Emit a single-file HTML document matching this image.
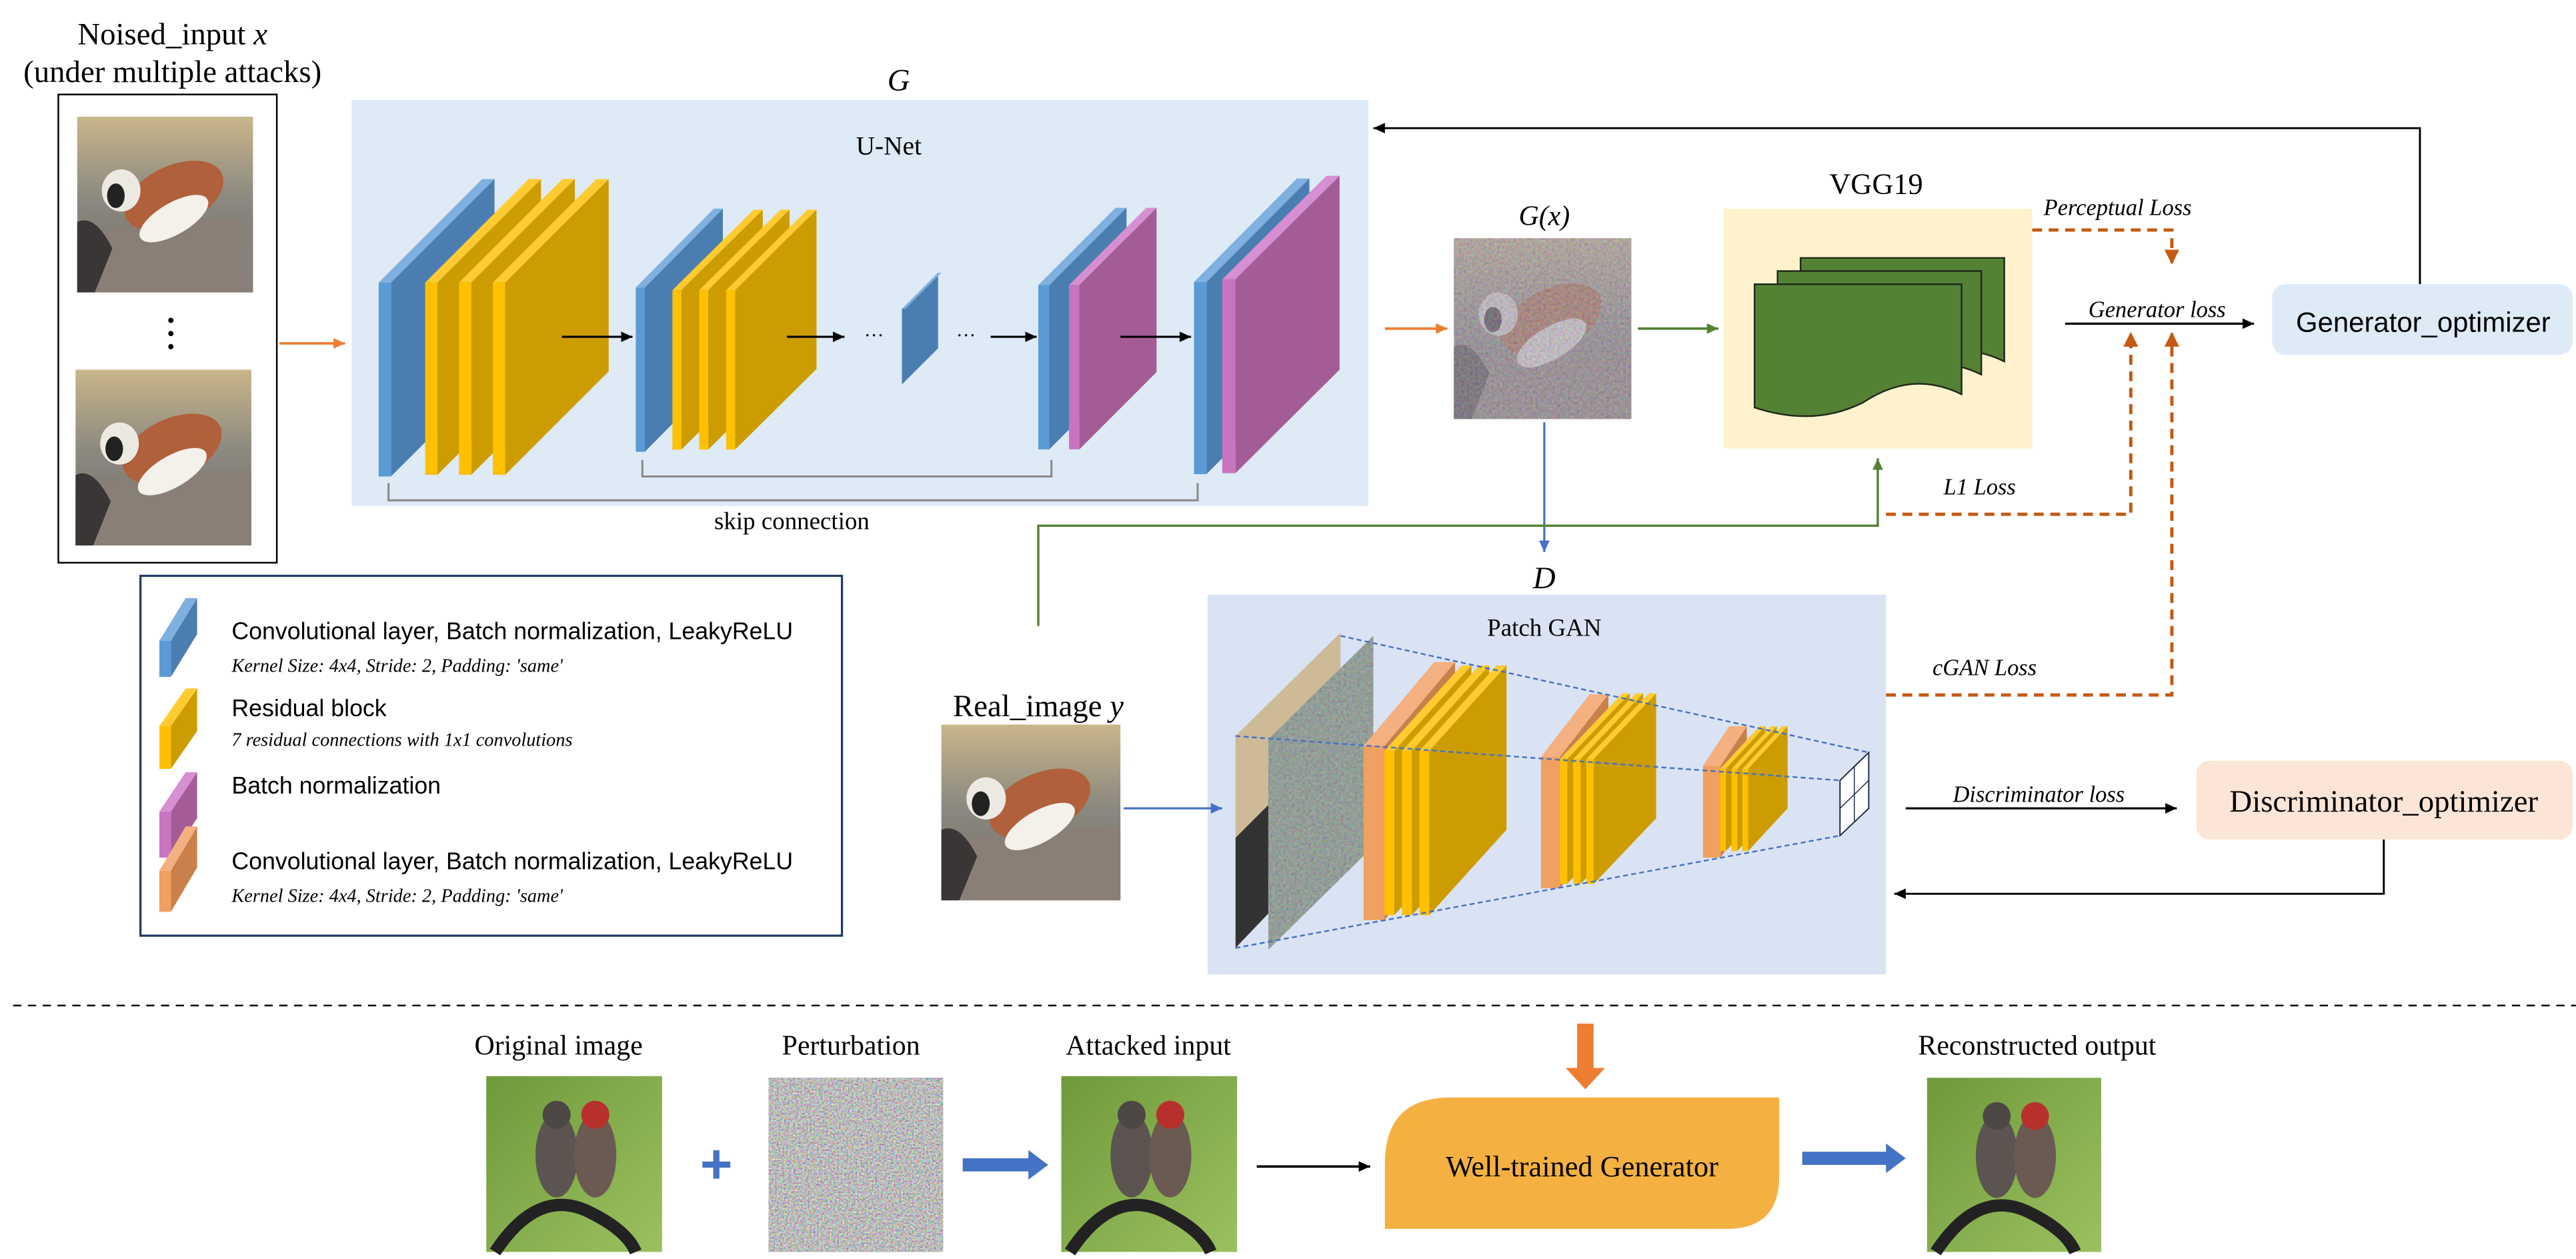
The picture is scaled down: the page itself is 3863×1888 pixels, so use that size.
<!DOCTYPE html>
<html><head><meta charset="utf-8"><style>
html,body{margin:0;padding:0;background:#fff;}
svg{display:block;}
.s{font-family:"Liberation Serif",serif;}
.a{font-family:"Liberation Sans",sans-serif;}
</style></head><body>
<svg id="S" width="3863" height="1888" viewBox="0 0 1568 766.3" preserveAspectRatio="none" xmlns="http://www.w3.org/2000/svg">
<defs>
<marker id="ab" markerWidth="8" markerHeight="8" refX="7" refY="4" orient="auto" markerUnits="userSpaceOnUse"><path d="M0,0.8 L7,4 L0,7.2 Z" fill="#000"/></marker>
<marker id="ao" markerWidth="8" markerHeight="8" refX="7" refY="4" orient="auto" markerUnits="userSpaceOnUse"><path d="M0,0.8 L7,4 L0,7.2 Z" fill="#ed7d31"/></marker>
<marker id="ad" markerWidth="10" markerHeight="10" refX="8" refY="5" orient="auto" markerUnits="userSpaceOnUse"><path d="M0,0.5 L9,5 L0,9.5 Z" fill="#c55a11"/></marker>
<marker id="ag" markerWidth="8" markerHeight="8" refX="7" refY="4" orient="auto" markerUnits="userSpaceOnUse"><path d="M0,0.8 L7,4 L0,7.2 Z" fill="#548235"/></marker>
<marker id="abl" markerWidth="8" markerHeight="8" refX="7" refY="4" orient="auto" markerUnits="userSpaceOnUse"><path d="M0,0.8 L7,4 L0,7.2 Z" fill="#4472c4"/></marker>
<linearGradient id="birdbg" x1="0" y1="0" x2="0" y2="1"><stop offset="0" stop-color="#c9b68a"/><stop offset="0.45" stop-color="#8d8a80"/><stop offset="1" stop-color="#6e6a68"/></linearGradient>
<linearGradient id="greenbg" x1="0" y1="0" x2="1" y2="1"><stop offset="0" stop-color="#6f9a3a"/><stop offset="1" stop-color="#9cc060"/></linearGradient>
<filter id="noise" x="0" y="0" width="1" height="1"><feTurbulence type="fractalNoise" baseFrequency="0.9" numOctaves="2" seed="3"/><feColorMatrix type="matrix" values="1.2 0 0 0 -0.1  0 1.2 0 0 -0.1  0 0 1.2 0 -0.1  0 0 0 0 1"/></filter>
<filter id="noise2" x="0" y="0" width="1" height="1"><feTurbulence type="fractalNoise" baseFrequency="0.6" numOctaves="2" seed="7"/><feColorMatrix type="matrix" values="1 0 0 0 0  0 1 0 0 0  0 0 1 0 0  0 0 0 0 0.55"/></filter>
<clipPath id="cp1"><polygon points="752,448 816,385 816,510 752,577"/></clipPath>
<clipPath id="cp2"><polygon points="772,450 836,387 836,515 772,578"/></clipPath>
<g id="bird">
<rect x="0" y="0" width="100" height="100" fill="url(#birdbg)"/>
<path d="M0,70 Q40,55 100,60 L100,100 L0,100Z" fill="#8a7f76"/>
<ellipse cx="55" cy="45" rx="30" ry="17" fill="#b0603a" transform="rotate(-25 55 45)"/>
<ellipse cx="55" cy="58" rx="22" ry="9" fill="#f4f0ea" transform="rotate(-30 55 58)"/>
<ellipse cx="25" cy="42" rx="11" ry="12" fill="#ece8e2"/>
<ellipse cx="22" cy="45" rx="5" ry="7" fill="#222"/>
<path d="M0,60 Q10,55 20,75 L10,100 L0,100Z" fill="#3a3636"/>
</g>
<g id="gbird">
<rect x="0" y="0" width="100" height="100" fill="url(#greenbg)"/>
<ellipse cx="40" cy="45" rx="12" ry="24" fill="#5b5450"/>
<ellipse cx="62" cy="45" rx="12" ry="24" fill="#6a5a52"/>
<circle cx="40" cy="22" r="8" fill="#4e4844"/>
<circle cx="62" cy="22" r="8" fill="#b8302c"/>
<path d="M5,100 Q30,62 60,78 Q80,88 85,100" fill="none" stroke="#222" stroke-width="7"/>
</g>
</defs>

<text class="s" x="105" y="27" font-size="19" text-anchor="middle">Noised_input <tspan font-style="italic">x</tspan></text>
<text class="s" x="105" y="50" font-size="19" text-anchor="middle">(under multiple attacks)</text>
<rect x="35.5" y="57.5" width="133" height="285" fill="#fff" stroke="#000" stroke-width="1"/>
<use href="#bird" transform="translate(47,71) scale(1.07,1.07)"/>
<use href="#bird" transform="translate(46,225) scale(1.07,1.07)"/>
<circle cx="104" cy="195" r="1.6"/><circle cx="104" cy="203" r="1.6"/><circle cx="104" cy="211" r="1.6"/>
<line x1="170" y1="209" x2="210" y2="209" stroke="#ed7d31" stroke-width="1.5" marker-end="url(#ao)"/>

<text class="s" x="547" y="55" font-size="19" font-style="italic" text-anchor="middle">G</text>
<rect x="214" y="61" width="619" height="247" fill="#deeaf6"/>
<text class="s" x="541" y="94" font-size="16" text-anchor="middle">U-Net</text>
<g id="unet"></g>
<polygon points="549,188 571,166 571,212 549,234" fill="#4a7eb0"/>
<polygon points="549,188 571,166 573,166 551,188" fill="#7fb0df"/>
<g stroke="#000" stroke-width="1.3">
<line x1="342" y1="205" x2="385" y2="205" marker-end="url(#ab)"/>
<line x1="479" y1="205" x2="514" y2="205" marker-end="url(#ab)"/>
<line x1="603" y1="205" x2="631" y2="205" marker-end="url(#ab)"/>
<line x1="682" y1="205" x2="725" y2="205" marker-end="url(#ab)"/>
</g>
<text class="s" x="532" y="208" font-size="12" text-anchor="middle">···</text>
<text class="s" x="588" y="208" font-size="12" text-anchor="middle">···</text>
<path d="M391,280 V290 H640 V280" fill="none" stroke="#888" stroke-width="1.2"/>
<path d="M236.5,294 V304.5 H729 V294" fill="none" stroke="#888" stroke-width="1.2"/>
<text class="s" x="482" y="322" font-size="15" text-anchor="middle">skip connection</text>
<polyline points="1473,173 1473,78 836,78" fill="none" stroke="#000" stroke-width="1.2" marker-end="url(#ab)"/>

<line x1="843" y1="200" x2="881" y2="200" stroke="#ed7d31" stroke-width="1.5" marker-end="url(#ao)"/>
<text class="s" x="940" y="137" font-size="17" font-style="italic" text-anchor="middle">G(x)</text>
<use href="#bird" transform="translate(885,145) scale(1.08,1.1)"/>
<rect x="885" y="145" width="108" height="110" filter="url(#noise2)"/>
<rect x="885" y="145" width="108" height="110" fill="#7a6a8a" opacity="0.25"/>
<line x1="997" y1="200" x2="1046" y2="200" stroke="#548235" stroke-width="1.5" marker-end="url(#ag)"/>
<text class="s" x="1142" y="118" font-size="18" text-anchor="middle">VGG19</text>
<rect x="1049" y="127" width="188" height="146" fill="#fff2cc"/>
<g stroke="#1f2a1a" stroke-width="1" fill="#548235">
<path d="M1096,157 H1220 V220 Q1190,205 1160,225 Q1130,240 1096,230 Z"/>
<path d="M1082,165 H1206 V228 Q1176,213 1146,233 Q1116,248 1082,238 Z"/>
<path d="M1068,173 H1194 V240 Q1164,225 1134,245 Q1104,260 1068,248 Z"/>
</g>
<line x1="940" y1="257" x2="940" y2="336" stroke="#4472c4" stroke-width="1.3" marker-end="url(#abl)"/>
<text class="s" x="940" y="358" font-size="19" font-style="italic" text-anchor="middle">D</text>
<polyline points="632,381 632,320 1143,320 1143,279" fill="none" stroke="#548235" stroke-width="1.4" marker-end="url(#ag)"/>

<rect x="735" y="362" width="413" height="231" fill="#dae3f3"/>
<text class="s" x="940" y="387" font-size="15" text-anchor="middle">Patch GAN</text>
<g clip-path="url(#cp1)">
<rect x="752" y="385" width="64" height="192" fill="#cdbb98"/>
<polygon points="752,510 772,490 772,577 752,577" fill="#333"/>
</g>
<g clip-path="url(#cp2)">
<rect x="772" y="387" width="64" height="191" fill="#7f7a9a"/>
<rect x="772" y="387" width="64" height="191" filter="url(#noise2)"/>
<rect x="772" y="387" width="64" height="191" fill="#6a9a5a" opacity="0.25"/>
</g>
<g id="patch"></g>
<polygon points="1120,475 1137.5,458 1137.5,492 1120,508.6" fill="#fff" stroke="#1f2a4a" stroke-width="0.8"/>
<line x1="1128.7" y1="466" x2="1128.7" y2="500" stroke="#1f2a4a" stroke-width="0.6"/>
<line x1="1120" y1="492" x2="1137.5" y2="475" stroke="#1f2a4a" stroke-width="0.6"/>
<g stroke="#4472c4" stroke-width="1" stroke-dasharray="3,2" fill="none">
<line x1="816" y1="387" x2="1137.5" y2="458"/>
<line x1="752" y1="448" x2="1120" y2="475"/>
<line x1="752" y1="577" x2="1120" y2="508.6"/>
</g>
<text class="s" x="632" y="436" font-size="19" text-anchor="middle">Real_image <tspan font-style="italic">y</tspan></text>
<use href="#bird" transform="translate(573,441) scale(1.09,1.07)"/>
<line x1="684" y1="492" x2="744" y2="492" stroke="#4472c4" stroke-width="1.3" marker-end="url(#abl)"/>

<text class="s" x="1289" y="131" font-size="14" font-style="italic" text-anchor="middle">Perceptual Loss</text>
<polyline points="1237,140 1322,140 1322,160" fill="none" stroke="#c55a11" stroke-width="2" stroke-dasharray="6,4" marker-end="url(#ad)"/>
<text class="s" x="1313" y="193" font-size="14" font-style="italic" text-anchor="middle">Generator loss</text>
<line x1="1257" y1="197" x2="1372" y2="197" stroke="#000" stroke-width="1.3" marker-end="url(#ab)"/>
<text class="s" x="1205" y="301" font-size="14" font-style="italic" text-anchor="middle">L1 Loss</text>
<polyline points="1148,313 1297,313 1297,203" fill="none" stroke="#c55a11" stroke-width="2" stroke-dasharray="6,4" marker-end="url(#ad)"/>
<text class="s" x="1208" y="411" font-size="14" font-style="italic" text-anchor="middle">cGAN Loss</text>
<polyline points="1148,423 1322,423 1322,203" fill="none" stroke="#c55a11" stroke-width="2" stroke-dasharray="6,4" marker-end="url(#ad)"/>
<rect x="1383" y="173" width="183" height="43" rx="8" fill="#deebf7"/>
<text class="a" x="1475" y="202" font-size="17" text-anchor="middle">Generator_optimizer</text>
<text class="s" x="1241" y="488" font-size="14" font-style="italic" text-anchor="middle">Discriminator loss</text>
<line x1="1160" y1="492" x2="1325" y2="492" stroke="#000" stroke-width="1.3" marker-end="url(#ab)"/>
<rect x="1337" y="463" width="229" height="48" rx="8" fill="#fbe5d6"/>
<text class="s" x="1451" y="494" font-size="19" text-anchor="middle">Discriminator_optimizer</text>
<polyline points="1451,511 1451,544 1153,544" fill="none" stroke="#000" stroke-width="1.2" marker-end="url(#ab)"/>

<rect x="85.5" y="350.5" width="427" height="219" fill="#fff" stroke="#1f3864" stroke-width="1.3"/>
<g id="legend"></g>
<text class="a" x="141" y="389" font-size="14.5">Convolutional layer, Batch normalization, LeakyReLU</text>
<text class="s" x="141" y="409" font-size="11.5" font-style="italic">Kernel Size: 4x4, Stride: 2, Padding: 'same'</text>
<text class="a" x="141" y="436" font-size="14.5">Residual block</text>
<text class="s" x="141" y="454" font-size="11.5" font-style="italic">7 residual connections with 1x1 convolutions</text>
<text class="a" x="141" y="483" font-size="14.5">Batch normalization</text>
<text class="a" x="141" y="529" font-size="14.5">Convolutional layer, Batch normalization, LeakyReLU</text>
<text class="s" x="141" y="549" font-size="11.5" font-style="italic">Kernel Size: 4x4, Stride: 2, Padding: 'same'</text>

<line x1="8" y1="612" x2="1568" y2="612" stroke="#000" stroke-width="1" stroke-dasharray="5,4"/>

<text class="s" x="340" y="642" font-size="17" text-anchor="middle">Original image</text>
<text class="s" x="518" y="642" font-size="17" text-anchor="middle">Perturbation</text>
<text class="s" x="699" y="642" font-size="17" text-anchor="middle">Attacked input</text>
<text class="s" x="1240" y="642" font-size="17" text-anchor="middle">Reconstructed output</text>
<use href="#gbird" transform="translate(296,655) scale(1.07,1.07)"/>
<rect x="468" y="656" width="106" height="106" filter="url(#noise)"/>
<use href="#gbird" transform="translate(646,655) scale(1.07,1.07)"/>
<use href="#gbird" transform="translate(1173,656) scale(1.06,1.06)"/>
<text class="a" x="436" y="720" font-size="34" font-weight="bold" fill="#4472c4" text-anchor="middle">+</text>
<polygon points="586,705 626,705 626,700 638,709 626,718 626,713 586,713" fill="#4472c4"/>
<polygon points="1097,701 1148,701 1148,696 1160,705 1148,714 1148,709 1097,709" fill="#4472c4"/>
<line x1="765" y1="710" x2="834" y2="710" stroke="#000" stroke-width="1.5" marker-end="url(#ab)"/>
<polygon points="960,623 970,623 970,650 977,650 965,663 953,650 960,650" fill="#ed7d31"/>
<path d="M883,668 H1083 V716 Q1083,748 1051,748 H843 V708 Q843,668 883,668 Z" fill="#f4b142"/>
<text class="s" x="963" y="716" font-size="18" text-anchor="middle">Well-trained Generator</text>
</svg>
<script>
function slab(x,yt,h,dx,dy,w,c){
 return '<polygon points="'+(x+w)+','+yt+' '+(x+w+dx)+','+(yt-dy)+' '+(x+w+dx)+','+(yt-dy+h)+' '+(x+w)+','+(yt+h)+'" fill="'+c[2]+'"/>'+
 '<polygon points="'+x+','+yt+' '+(x+dx)+','+(yt-dy)+' '+(x+dx+w)+','+(yt-dy)+' '+(x+w)+','+yt+'" fill="'+c[1]+'"/>'+
 '<rect x="'+x+'" y="'+yt+'" width="'+w+'" height="'+h+'" fill="'+c[0]+'"/>';
}
var B=['#5b9bd5','#7fb0df','#4a7eb0'],Y=['#ffc000','#ffcb30','#cc9c00'],P=['#c874c0','#d68fd0','#a45c96'],O=['#f0a060','#f4b080','#c9804a'];
var u='';
u+=slab(230.5,172,118,63,63,7.5,B);
[258.8,279.4,300].forEach(function(x){u+=slab(x,172,117,63,63,7.5,Y);});
u+=slab(387,175,100,47.5,48,5.5,B);
[409.3,425.6,442].forEach(function(x){u+=slab(x,176.6,97,49.5,49,5.5,Y);});
u+=slab(632,173.5,100,47,47,6.7,B);
u+=slab(650.7,173.5,100,47,47,6.3,P);
u+=slab(726.8,171.6,117,62.6,63,7.6,B);
u+=slab(744,170,118,63.4,63,8,P);
document.getElementById('unet').innerHTML=u;
var p='';
p+=slab(830,454,106,43,51,12.7,O);
[842.7,853.4,864].forEach(function(x){p+=slab(x,457,100,47,52,6,Y);});
p+=slab(938,460.6,80,29.5,38,11.5,O);
[949.5,957.6,965.6].forEach(function(x){p+=slab(x,462,76,38,40,4.5,Y);});
p+=slab(1036.6,466,56,16,24,10.7,O);
[1047,1054,1060.6].forEach(function(x){p+=slab(x,468,50,24,26,3.5,Y);});
document.getElementById('patch').innerHTML=p;
var l='';
l+=slab(97,390,22,16,26,7,B);
l+=slab(97,442,26,16,23,7,Y);
l+=slab(97,494,28,16,24,7,P);
l+=slab(97,530,25,16,27,7,O);
document.getElementById('legend').innerHTML=l;
</script>
</body></html>
